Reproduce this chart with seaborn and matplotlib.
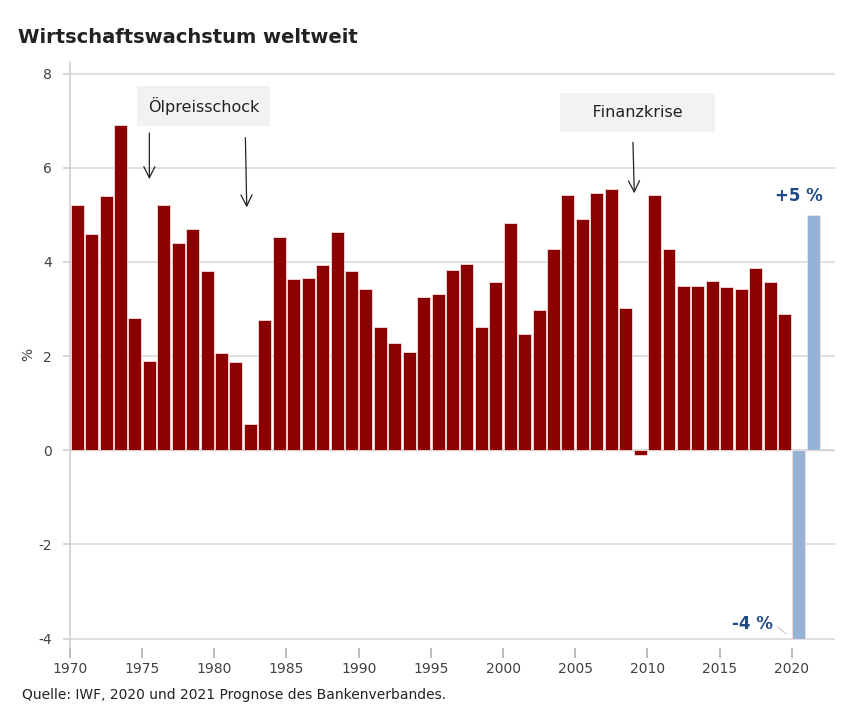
import numpy as np
import pandas as pd
import matplotlib
matplotlib.use("Agg")
import matplotlib.pyplot as plt
import seaborn as sns

# Wachstum der Weltwirtschaft in %, 1970-2019 IWF, 2020/2021 Prognose
years = list(range(1970, 2022))
growth = [5.2, 4.6, 5.4, 6.9, 2.8, 1.9, 5.2, 4.4, 4.7, 3.8,
          2.06, 1.87, 0.55, 2.76, 4.54, 3.63, 3.66, 3.93, 4.63, 3.8,
          3.43, 2.61, 2.27, 2.08, 3.25, 3.32, 3.84, 3.96, 2.61, 3.58,
          4.82, 2.47, 2.97, 4.28, 5.42, 4.91, 5.47, 5.56, 3.02, -0.1,
          5.42, 4.28, 3.5, 3.48, 3.59, 3.47, 3.43, 3.87, 3.58, 2.89,
          -4.0, 5.0]
kind = ["IWF"] * 50 + ["Prognose"] * 2

colors = {"IWF": "#8b0000", "Prognose": "#95b3d7"}
label_blue = "#1f4a85"

df = pd.DataFrame({"year": years, "growth": growth, "kind": kind})
df["pos"] = df["year"] + 0.5

sns.set_style("white")
plt.rcParams["font.family"] = ["DejaVu Sans"]
plt.rcParams["axes.unicode_minus"] = False

fig = plt.figure(figsize=(8.43, 7.12), dpi=100)
ax = fig.add_axes([0.083, 0.09, 0.9075, 0.823])

sns.barplot(data=df, x="pos", y="growth", hue="kind", palette=colors,
            native_scale=True, width=0.9, dodge=False, legend=False,
            saturation=1, edgecolor="#f3dede", linewidth=0.6, ax=ax, zorder=3)

ax.set_xlim(1970, 2023)
ax.set_ylim(-4.2, 8.25)
ax.set_yticks(range(-4, 9, 2))
ax.set_xticks(range(1970, 2021, 5))
ax.set_xticklabels([str(y) for y in range(1970, 2021, 5)])
ax.yaxis.grid(True, color="#d9d9d9", linewidth=1.2, zorder=0)
ax.xaxis.grid(False)
ax.axhline(0, color="#d0d0d0", linewidth=1.0, zorder=1)

for s in ["top", "right", "bottom"]:
    ax.spines[s].set_visible(False)
ax.spines["left"].set_color("#cfcfcf")
ax.spines["left"].set_linewidth(1.2)
ax.tick_params(axis="x", length=7, width=1.2, color="#b0b0b0",
               labelsize=10, labelcolor="#404040", pad=3, direction="out", bottom=True)
ax.tick_params(axis="y", length=5, width=1.2, color="#cfcfcf",
               labelsize=10, labelcolor="#404040", pad=8, direction="out", left=True)
ax.set_xlabel("")
ax.set_ylabel("%", fontsize=10, color="#404040", labelpad=2)

# Annotationen
ax.text(1979.25, 7.32, "Ölpreisschock", ha="center", va="center",
        fontsize=11.5, color="#222222", zorder=5,
        bbox=dict(boxstyle="square,pad=0.7", facecolor="#f2f2f2", edgecolor="none"))
ax.text(2009.3, 7.17, "    Finanzkrise    ", ha="center", va="center",
        fontsize=11.5, color="#222222", zorder=5,
        bbox=dict(boxstyle="square,pad=0.75", facecolor="#f2f2f2", edgecolor="none"))

arrow = dict(arrowstyle="->", color="#222222", lw=0.9, mutation_scale=20)
ax.annotate("", xy=(1975.5, 5.7), xytext=(1975.5, 6.8), arrowprops=arrow)
ax.annotate("", xy=(1982.25, 5.1), xytext=(1982.15, 6.7), arrowprops=arrow)
ax.annotate("", xy=(2009.1, 5.4), xytext=(2009.0, 6.6), arrowprops=arrow)

ax.text(2020.5, 5.41, "+5 %", ha="center", va="center", fontsize=12,
        fontweight="bold", color=label_blue, zorder=5)
ax.text(2018.7, -3.7, "-4 %", ha="right", va="center", fontsize=12,
        fontweight="bold", color=label_blue, zorder=5)
ax.plot([2019.0, 2019.6], [-3.75, -3.9], color="#c8c8c8", lw=0.8, zorder=5)

fig.text(0.021, 0.948, "Wirtschaftswachstum weltweit", fontsize=14,
         fontweight="bold", color="#222222", ha="left", va="center")
fig.text(0.026, 0.024, "Quelle: IWF, 2020 und 2021 Prognose des Bankenverbandes.",
         fontsize=10, color="#222222", ha="left", va="center")

fig.savefig("out.png", dpi=100)
